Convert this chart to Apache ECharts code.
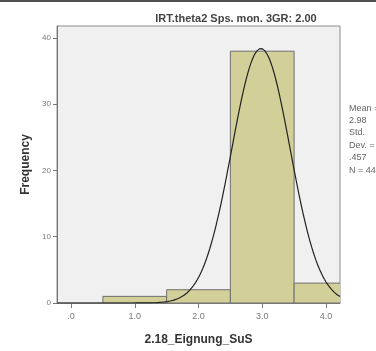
<!DOCTYPE html>
<html><head><meta charset="utf-8">
<script src="https://cdn.jsdelivr.net/npm/echarts@6/dist/echarts.min.js"></script>
<style>html,body{margin:0;padding:0;background:#fff}#c{width:376px;height:351px}</style>
</head><body><div id="c"></div>
<script>
// Histogram bins: [lower, upper]
const binLower = [0.5, 1.5, 2.5, 3.5];
const binUpper = [1.5, 2.5, 3.5, 4.5];
const binCounts = [1, 2, 38, 3];
const xTicks = [0, 1, 2, 3, 4];
const xTickLabels = ['.0', '1.0', '2.0', '3.0', '4.0'];
const yTicks = [0, 10, 20, 30, 40];
const statMean = 2.98;
const statSD = 0.457;
const statN = 44;
const statLines = ['Mean =', '2.98', 'Std.', 'Dev. =', '.457', 'N = 44'];
const titleText = 'IRT.theta2 Sps. mon. 3GR: 2.00';
const xName = '2.18_Eignung_SuS';
const yName = 'Frequency';

const xMin = -0.22, xMax = 4.22, yMax = 41.8;

// normal curve overlay from displayed statistics (bin width 1)
const curve = [];
for (let i = 0; i <= 200; i++) {
  const x = xMin + (xMax - xMin) * i / 200;
  const z = (x - statMean) / statSD;
  curve.push([x, statN * Math.exp(-0.5 * z * z) / (statSD * Math.sqrt(2 * Math.PI))]);
}
const bins = binCounts.map((c, i) => [binLower[i], binUpper[i], c]);

const chart = echarts.init(document.getElementById('c'), null, {renderer: 'canvas'});
const txt = {fontFamily: 'Liberation Sans, Arial, sans-serif'};
chart.setOption({
  animation: false,
  backgroundColor: '#ffffff',
  grid: {left: 57, right: 36, top: 26, bottom: 47, show: true, backgroundColor: '#f0f0f0', borderColor: '#8c8c8c', borderWidth: 1},
  xAxis: {
    type: 'value', min: xMin, max: xMax,
    name: xName, nameLocation: 'middle', nameGap: 31,
    nameTextStyle: Object.assign({fontSize: 12, fontWeight: 'bold', color: '#333'}, txt),
    axisLine: {show: true, onZero: false, lineStyle: {color: '#777', width: 1}},
    axisTick: {show: true, length: 5, customValues: xTicks, lineStyle: {color: '#777'}},
    axisLabel: {customValues: xTicks, formatter: v => xTickLabels[xTicks.indexOf(Math.round(v))], fontSize: 9, color: '#777', margin: 9, fontFamily: txt.fontFamily},
    splitLine: {show: false}
  },
  yAxis: {
    type: 'value', min: 0, max: yMax,
    name: yName, nameLocation: 'middle', nameGap: 24, nameRotate: 90,
    nameTextStyle: Object.assign({fontSize: 12, fontWeight: 'bold', color: '#333'}, txt),
    axisLine: {show: true, onZero: false, lineStyle: {color: '#777', width: 1}},
    axisTick: {show: true, length: 4, customValues: yTicks, lineStyle: {color: '#777'}},
    axisLabel: {customValues: yTicks, fontSize: 8, color: '#777', margin: 6, fontFamily: txt.fontFamily},
    splitLine: {show: false}
  },
  title: {text: titleText, left: 231, top: 8, textAlign: 'center',
    textStyle: Object.assign({fontSize: 11, fontWeight: 'bold', color: '#444'}, txt)},
  graphic: [
    {type: 'rect', shape: {x: 0, y: 0, width: 376, height: 2}, style: {fill: '#505050'}},
    {type: 'text', left: 349, top: 102, style: {text: statLines.join('\n'), fontSize: 9, lineHeight: 12.4, fill: '#666', fontFamily: txt.fontFamily}}
  ],
  series: [
    {
      type: 'custom', clip: true, data: bins,
      renderItem: (params, api) => {
        const p0 = api.coord([api.value(0), api.value(2)]);
        const p1 = api.coord([api.value(1), 0]);
        return {type: 'rect', shape: {x: p0[0], y: p0[1], width: p1[0] - p0[0], height: p1[1] - p0[1]},
          style: {fill: '#d3cf99', stroke: '#6f6f6f', lineWidth: 1}};
      },
      encode: {x: [0, 1], y: 2}, z: 2
    },
    {
      type: 'line', data: curve, showSymbol: false, smooth: false, clip: true,
      lineStyle: {color: '#222', width: 1.2}, z: 3
    }
  ]
});
</script></body></html>
